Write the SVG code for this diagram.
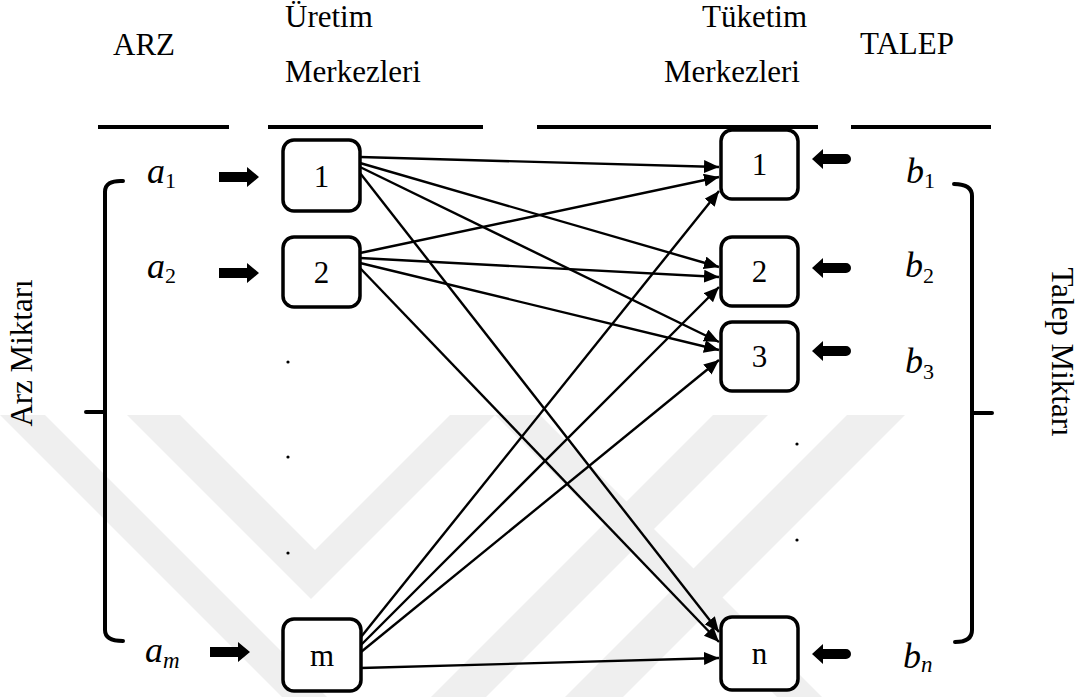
<svg xmlns="http://www.w3.org/2000/svg" xmlns:xlink="http://www.w3.org/1999/xlink" width="1081" height="697" viewBox="0 0 1081 697">
<style>
.hd{font-family:"Liberation Serif","Times New Roman",serif;font-size:31px;fill:#000}
.lb{font-family:"Liberation Serif","Times New Roman",serif;font-size:31px;fill:#000;text-anchor:middle}
.mt{font-family:"Liberation Serif","Times New Roman",serif;font-size:36px;font-style:italic;fill:#000}
.sb{font-size:22px;font-style:normal}
.si{font-size:23px;font-style:italic}
.box{fill:#fff;stroke:#000;stroke-width:3.5}
.rule{stroke:#000;stroke-width:4}
.br{fill:none;stroke:#000;stroke-width:4;stroke-linecap:round}
.cn{stroke:#000;stroke-width:2.4;fill:none;marker-end:url(#ah)}
.wm{fill:#efefef}
</style>
<defs>
<marker id="ah" markerUnits="userSpaceOnUse" markerWidth="17" markerHeight="14" refX="15" refY="6.5" orient="auto">
<path d="M0,0 L15,6.5 L0,13 z" fill="#000"/>
</marker>
<path id="barR" d="M0,-5 L28,-5 L28,-10 L40,0 L28,10 L28,5 L0,5 z" fill="#000"/>
<path id="barL" d="M0,0 L11,-10 L11,-5 L34,-5 A5,5 0 0 1 34,5 L11,5 L11,10 z" fill="#000"/>
</defs>
<rect width="1081" height="697" fill="#fff"/>
<g id="watermark">
<polygon class="wm" points="0,415 45,415 327,697 282,697"/>
<polygon class="wm" points="127,415 180,415 315,550 450,415 495,415 311,599"/>
<polygon class="wm" points="495,415 540,415 822,697 777,697"/>
<polygon class="wm" points="713,415 768,415 486,697 431,697"/>
<polygon class="wm" points="847,415 905,415 623,697 565,697"/>
</g>
<g id="headers">
<text class="hd" x="113" y="55">ARZ</text>
<text class="hd" x="285" y="27">Üretim</text>
<text class="hd" x="285" y="82">Merkezleri</text>
<text class="hd" x="702" y="27">Tüketim</text>
<text class="hd" x="664" y="82">Merkezleri</text>
<text class="hd" x="860" y="54">TALEP</text>
<line class="rule" x1="98" y1="127" x2="229" y2="127"/>
<line class="rule" x1="268" y1="127" x2="483" y2="127"/>
<line class="rule" x1="537" y1="127" x2="818" y2="127"/>
<line class="rule" x1="851" y1="127" x2="991" y2="127"/>
</g>
<g id="brackets">
<path class="br" d="M123,181 Q105,180 105,192 L105,630 Q105,641 123,641 M86,412 L105,412"/>
<path class="br" d="M954,184 Q972,184 972,196 L972,630 Q972,642 955,642 M972,413 L992,413"/>
<text class="hd" transform="translate(32,353) rotate(-90)" text-anchor="middle">Arz Miktarı</text>
<text class="hd" transform="translate(1052,352) rotate(90)" text-anchor="middle">Talep Miktarı</text>
</g>
<g id="connectors">
<line class="cn" x1="360" y1="157" x2="719" y2="167"/>
<line class="cn" x1="360" y1="163" x2="719" y2="267"/>
<line class="cn" x1="360" y1="167" x2="719" y2="342"/>
<line class="cn" x1="360" y1="173" x2="719" y2="632"/>
<line class="cn" x1="360" y1="253" x2="719" y2="177"/>
<line class="cn" x1="360" y1="258" x2="719" y2="277"/>
<line class="cn" x1="360" y1="263" x2="719" y2="350"/>
<line class="cn" x1="360" y1="268" x2="719" y2="642"/>
<line class="cn" x1="361" y1="637" x2="719" y2="191"/>
<line class="cn" x1="361" y1="645" x2="719" y2="287"/>
<line class="cn" x1="361" y1="652" x2="719" y2="360"/>
<line class="cn" x1="361" y1="668" x2="719" y2="658"/>
</g>
<g id="supply-arrows">
<use xlink:href="#barR" x="219" y="177"/>
<use xlink:href="#barR" x="219" y="273"/>
<use xlink:href="#barR" x="210" y="652"/>
</g>
<g id="demand-arrows">
<use xlink:href="#barL" x="812" y="159"/>
<use xlink:href="#barL" x="812" y="268"/>
<use xlink:href="#barL" x="812" y="351"/>
<use xlink:href="#barL" x="812" y="654"/>
</g>
<g id="node-s1"><rect class="box" x="283" y="140" width="77" height="71" rx="11"/><text class="lb" x="321.5" y="187">1</text></g>
<g id="node-s2"><rect class="box" x="283" y="237" width="77" height="70" rx="11"/><text class="lb" x="321.5" y="283">2</text></g>
<g id="node-sm"><rect class="box" x="283" y="619" width="78" height="72" rx="11"/><text class="lb" x="322" y="666">m</text></g>
<g id="node-d1"><rect class="box" x="721" y="130" width="77" height="69" rx="11"/><text class="lb" x="759.5" y="175">1</text></g>
<g id="node-d2"><rect class="box" x="721" y="237" width="77" height="69" rx="11"/><text class="lb" x="759.5" y="282">2</text></g>
<g id="node-d3"><rect class="box" x="721" y="322" width="77" height="69" rx="11"/><text class="lb" x="759.5" y="367">3</text></g>
<g id="node-dn"><rect class="box" x="721" y="617" width="77" height="73" rx="11"/><text class="lb" x="759.5" y="664">n</text></g>
<g id="dots" fill="#000">
<circle cx="288" cy="362" r="1.6"/><circle cx="288" cy="457" r="1.6"/><circle cx="288" cy="553" r="1.6"/>
<circle cx="797" cy="444" r="1.6"/><circle cx="797" cy="540" r="1.6"/>
</g>
<g id="quantities">
<text class="mt" x="147" y="183">a<tspan class="sb" dy="5">1</tspan></text>
<text class="mt" x="147" y="278">a<tspan class="sb" dy="5">2</tspan></text>
<text class="mt" x="145" y="662">a<tspan class="si" dy="6">m</tspan></text>
<text class="mt" x="906" y="183">b<tspan class="sb" dy="5">1</tspan></text>
<text class="mt" x="905" y="277">b<tspan class="sb" dy="6">2</tspan></text>
<text class="mt" x="905" y="373">b<tspan class="sb" dy="6">3</tspan></text>
<text class="mt" x="903" y="668">b<tspan class="si" dy="4">n</tspan></text>
</g>
</svg>
